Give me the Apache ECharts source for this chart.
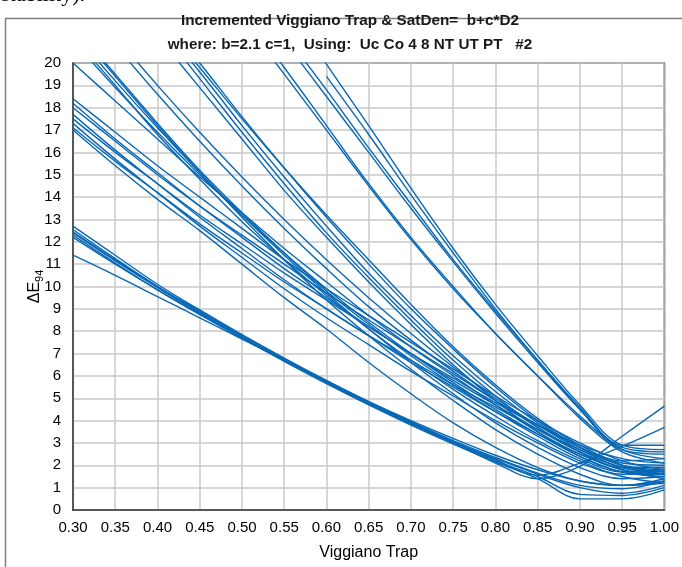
<!DOCTYPE html>
<html>
<head>
<meta charset="utf-8">
<script src="https://cdn.jsdelivr.net/npm/echarts@6/dist/echarts.min.js"></script>
<style>
html,body{margin:0;padding:0;background:#fff;}
#chart{width:682px;height:567px;}
</style>
</head>
<body>
<div id="chart"></div>
<script>
// X categories (Viggiano Trap) and y tick range
const xCategories = ['0.30','0.35','0.40','0.45','0.50','0.55','0.60','0.65','0.70','0.75','0.80','0.85','0.90','0.95','1.00'];
const yMin = 0, yMax = 20, yStep = 1;

// Lower bundle
const sA1 = [12.7,11.4,10.1,8.95,7.85,6.8,5.8,4.85,3.95,3.1,2.35,1.65,1.1,0.95,1.3];
const sA2 = [12.55,11.25,10.0,8.85,7.75,6.7,5.7,4.75,3.85,3.0,2.2,1.5,0.7,0.65,1.0];
const sA3 = [12.4,11.15,9.95,8.8,7.7,6.65,5.65,4.7,3.8,2.95,2.15,1.4,0.5,0.5,0.9];
const sA4 = [12.2,11.0,9.85,8.75,7.7,6.7,5.75,4.85,4.0,3.2,2.45,1.8,1.3,1.1,1.4];
const sA5 = [11.4,10.5,9.55,8.6,7.65,6.7,5.75,4.8,3.9,3.05,2.3,1.6,1.0,0.75,1.1];
const sA6 = [12.3,11.05,9.85,8.75,7.7,6.7,5.7,4.75,3.85,3.0,2.1,1.4,1.95,3.3,4.65];
const sA7 = [12.45,11.2,10.0,8.9,7.8,6.75,5.75,4.8,3.9,3.05,2.25,1.55,2.1,2.85,3.7];
// Middle group starting 17-18.4
const sB1 = [18.4,16.9,15.4,14.0,12.6,11.2,9.9,8.7,7.5,6.3,5.1,4.0,3.0,2.2,1.8];
const sB2 = [18.2,16.6,15.1,13.6,12.2,10.8,9.5,8.2,7.0,5.8,4.7,3.6,2.6,1.9,1.6];
const sB3 = [18.0,16.5,15.0,13.6,12.3,11.0,9.7,8.5,7.3,6.1,4.9,3.8,2.8,2.0,1.7];
const sB4 = [17.7,16.1,14.6,13.1,11.7,10.3,9.0,7.8,6.6,5.5,4.4,3.4,2.5,1.8,1.4];
const sB5 = [17.5,16.0,14.6,13.2,11.9,10.6,9.4,8.2,7.0,5.9,4.8,3.8,2.9,2.3,2.1];
const sB6 = [17.3,15.7,14.2,12.7,11.3,9.9,8.6,7.4,6.2,5.1,4.0,3.0,2.1,1.5,1.2];
const sB7 = [17.1,15.6,14.2,12.8,11.5,10.2,9.0,7.8,6.7,5.6,4.6,3.6,2.7,2.0,1.6];
const sB8 = [17.0,15.4,13.9,12.5,11.0,9.5,8.1,6.6,5.2,3.9,2.8,1.9,1.3,1.1,1.3];
// Group entering the top at 0.30-0.38
const sC1 = [20.0,18.3,16.6,14.9,13.3,11.7,10.2,8.7,7.3,6.0,4.7,3.5,2.5,1.8,1.6];
const sC2 = [21.0,18.9,16.9,15.0,13.2,11.5,9.9,8.4,7.0,5.7,4.5,3.4,2.4,1.7,1.5];
const sC3 = [21.2,19.0,16.8,14.8,12.9,11.2,9.6,8.1,6.7,5.4,4.2,3.1,2.2,1.6,1.6];
const sC4 = [21.7,19.5,17.3,15.2,13.3,11.5,9.8,8.3,6.9,5.6,4.4,3.3,2.3,1.7,1.8];
const sC5 = [null,20.8,18.6,16.5,14.5,12.6,10.8,9.1,7.6,6.2,4.9,3.7,2.6,1.9,1.9];
const sC6 = [null,21.2,19.0,16.9,14.9,13.0,11.2,9.5,7.9,6.4,5.0,3.8,2.7,1.9,1.7];
const sC7 = [21.4,19.2,17.1,15.1,13.2,11.4,9.7,8.1,6.6,5.2,3.9,2.8,1.9,1.4,1.5];
const sC8 = [21.6,19.4,17.2,15.1,13.1,11.2,9.4,7.8,6.3,4.9,3.6,2.5,1.6,1.1,1.2];
// Group entering the top at 0.42-0.45
const sD1 = [null,null,21.9,19.6,17.2,14.9,12.7,10.6,8.7,6.9,5.3,3.9,2.8,2.1,2.0];
const sD2 = [null,null,22.3,20.0,17.6,15.3,13.1,11.0,9.0,7.2,5.5,4.0,2.8,2.0,1.8];
const sD3 = [null,null,21.7,19.3,16.9,14.6,12.4,10.4,8.5,6.7,5.1,3.7,2.6,1.9,1.9];
const sD4 = [null,null,21.2,18.9,16.6,14.3,12.2,10.2,8.3,6.5,4.9,3.5,2.4,1.7,1.6];
const sD5 = [null,null,22.1,19.8,17.5,15.3,13.2,11.2,9.2,7.3,5.6,4.1,2.9,2.2,2.3];
// Steepest group entering the top at 0.54-0.60
const sE1 = [null,null,null,null,22.3,19.8,17.2,14.6,12.2,10.0,7.9,6.0,4.2,2.7,2.3];
const sE2 = [null,null,null,null,null,21.0,18.5,16.0,13.5,11.1,8.8,6.6,4.5,2.8,2.6];
const sE3 = [null,null,null,null,null,21.3,18.8,16.2,13.7,11.2,8.9,6.7,4.6,2.9,2.9];
const sE4 = [null,null,null,null,null,22.8,19.95,17.2,14.4,11.7,9.2,6.9,4.7,2.9,2.7];
const sE5 = [null,null,null,null,null,null,19.4,16.8,14.1,11.5,9.0,6.7,4.5,2.7,2.5];
const sE6 = [null,null,null,null,22.0,19.5,17.0,14.5,12.1,9.9,7.9,6.0,4.1,2.6,2.1];

const allSeries = [sA1,sA2,sA3,sA4,sA5,sA6,sA7,sB1,sB2,sB3,sB4,sB5,sB6,sB7,sB8,
  sC1,sC2,sC3,sC4,sC5,sC6,sC7,sC8,sD1,sD2,sD3,sD4,sD5,sE1,sE2,sE3,sE4,sE5,sE6];

const lineColor = '#0868b6';
const font = 'Liberation Sans, Arial, sans-serif';

const chart = echarts.init(document.getElementById('chart'), null, {renderer:'canvas'});
chart.setOption({
  animation: false,
  backgroundColor: '#ffffff',
  graphic: [
    {type:'rect', shape:{x:5.5,y:18.5,width:700,height:600}, style:{fill:'none', stroke:'#808080', lineWidth:1.5}, z:-10},
    {type:'text', x:85, y:6, style:{text:'stability).', font:'22px "Liberation Serif", serif', fill:'#000', align:'right', verticalAlign:'bottom'}},
    {type:'text', x:350, y:21, style:{text:'Incremented Viggiano Trap & SatDen=  b+c*D2', font:'bold 15.3px ' + font, fill:'#1a1a1a', align:'center', verticalAlign:'middle'}},
    {type:'text', x:350, y:45, style:{text:'where: b=2.1 c=1,  Using:  Uc Co 4 8 NT UT PT   #2', font:'bold 15.3px ' + font, fill:'#1a1a1a', align:'center', verticalAlign:'middle'}}
  ],
  grid: {left:73, right:16, top:63, bottom:57, show:true, borderColor:'#3a3a3a', borderWidth:1.5, backgroundColor:'#fff'},
  xAxis: {
    type:'category', data:xCategories, boundaryGap:false,
    name:'Viggiano Trap', nameLocation:'middle', nameGap:35, nameMoveOverlap:false,
    nameTextStyle:{fontFamily:font, fontSize:16, color:'#000'},
    axisLine:{show:true, lineStyle:{color:'#3a3a3a', width:1.5}},
    axisTick:{show:false},
    axisLabel:{fontFamily:font, fontSize:15, color:'#000', margin:10, interval:0},
    splitLine:{show:true, lineStyle:{color:'#c8c8c8', width:1.5}}
  },
  yAxis: {
    type:'value', min:yMin, max:yMax, interval:yStep,
    name:'{a|ΔE}{b|94}', nameLocation:'middle', nameGap:28, nameRotate:90, nameMoveOverlap:false,
    nameTextStyle:{rich:{a:{fontFamily:font, fontSize:16, color:'#000'}, b:{fontFamily:font, fontSize:11, color:'#000', padding:[9,0,0,0]}}},
    axisLine:{show:true, lineStyle:{color:'#3a3a3a', width:1.5}},
    axisTick:{show:false},
    axisLabel:{fontFamily:font, fontSize:15, color:'#000', margin:12},
    splitLine:{show:true, lineStyle:{color:'#c8c8c8', width:1.5}}
  },
  series: allSeries.map(function(d){
    return {type:'line', data:d, smooth:0.35, showSymbol:false, symbol:'none', clip:true,
      lineStyle:{color:lineColor, width:1.4}, silent:true};
  })
});
</script>
</body>
</html>
